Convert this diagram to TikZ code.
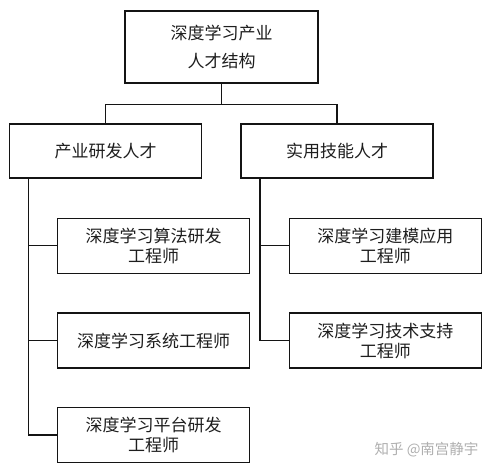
\documentclass[tikz,border=0pt]{standalone}
\usepackage{fontspec}
\usepackage{xcolor}
\usepackage{tikz}
\usetikzlibrary{positioning, calc}
\newfontfamily\cjk{Noto Sans CJK SC}
\definecolor{linecol}{RGB}{20,20,20}
\definecolor{textcol}{RGB}{30,30,30}
\definecolor{markgray}{RGB}{175,175,175}
\tikzset{
  box/.style={
    rectangle, draw=linecol, line width=1.4pt, fill=white,
    inner sep=0pt, align=center, text=textcol,
    font=\cjk\fontsize{17pt}{20pt}\selectfont
  },
  rootbox/.style={box, minimum width=193pt, minimum height=72pt,
    font=\cjk\fontsize{17pt}{28pt}\selectfont},
  groupbox/.style={box, minimum width=192pt, minimum height=54pt},
  jobbox/.style={box, minimum width=192pt, minimum height=55pt},
  link/.style={draw=linecol, line width=1.4pt},
}
\begin{document}
\begin{tikzpicture}[x=1pt, y=1pt]
  \useasboundingbox (0,0) rectangle (495,-471);
  % top
  \node[rootbox] (root) at (221.5,-47) {深度学习产业\\人才结构};
  % second level
  \node[groupbox] (dev) at (105.7,-151) {产业研发人才};
  \node[groupbox] (app) at (337,-151) {实用技能人才};
  % jobs
  \node[jobbox] (algo) at (153.5,-245.7) {深度学习算法研发\\工程师};
  \node[jobbox] (sys)  at (153.5,-340.5) {深度学习系统工程师};
  \node[jobbox] (plat) at (153.5,-435) {深度学习平台研发\\工程师};
  \node[jobbox] (model)   at (385.3,-245.7) {深度学习建模应用\\工程师};
  \node[jobbox] (support) at (385.3,-340.5) {深度学习技术支持\\工程师};
  % connectors
  \draw[link] (root.south) -- ++(0,-21) coordinate (fork);
  \draw[link] (dev.north) |- (fork) -| (app.north);
  \coordinate (devstem) at ($(dev.south west)+(19.5,0)$);
  \coordinate (appstem) at ($(app.south west)+(19.7,0)$);
  \foreach \leaf in {algo, sys, plat}
    \draw[link] (devstem) |- (\leaf.west);
  \foreach \leaf in {model, support}
    \draw[link] (appstem) |- (\leaf.west);
  % watermark
  \node[text=markgray, font=\cjk\fontsize{14.5pt}{16pt}\selectfont,
        anchor=east] (mark) at (482,-450) {知乎 @南宫静宇};
\end{tikzpicture}
\end{document}
